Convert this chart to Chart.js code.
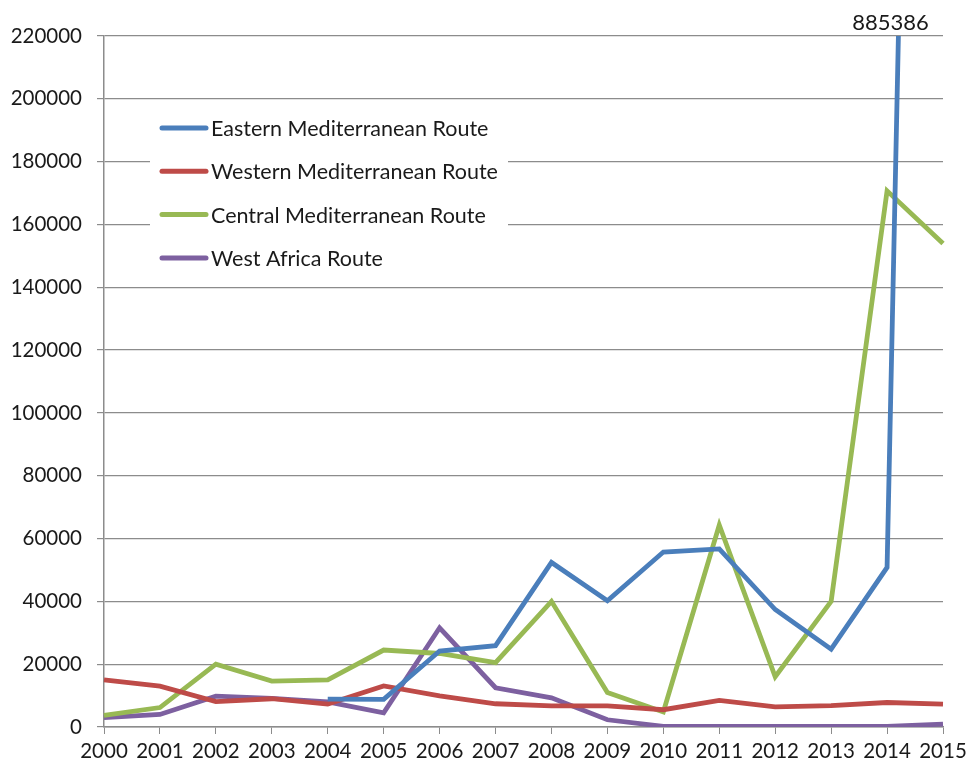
<!DOCTYPE html>
<html>
<head>
<meta charset="utf-8">
<script src="https://cdn.jsdelivr.net/npm/chart.js@4/dist/chart.umd.min.js"></script>
<style>
  html, body { margin: 0; padding: 0; background: #fff; }
  #wrap { width: 967px; height: 769px; }
</style>
</head>
<body>
<div id="wrap"><canvas id="routechart" width="967" height="769"></canvas></div>
<script>
// years on the x-axis
var years = ["2000", "2001", "2002", "2003", "2004", "2005", "2006", "2007",
             "2008", "2009", "2010", "2011", "2012", "2013", "2014", "2015"];

// detections per route
var eastern = [null, null, null, null, 8900, 8800, 24200, 25900, 52400, 40200, 55700, 56700, 37400, 24800, 50800, 885386];
var western = [15000, 13000, 8100, 9000, 7300, 13100, 9900, 7400, 6700, 6700, 5500, 8500, 6400, 6800, 7800, 7300];
var central = [3700, 6200, 20000, 14600, 15000, 24500, 23400, 20500, 40000, 11000, 4800, 64300, 16000, 40000, 170700, 153900];
var westAfrica = [3000, 4000, 9800, 9100, 8000, 4500, 31600, 12500, 9300, 2300, 200, 200, 200, 200, 200, 900];

// y-axis range shown (eastern 2015 runs off the top)
var yMax = 220000;
var yStep = 20000;

var fontFam = "Lato, 'Open Sans', sans-serif";

// legend drawn inside the plot area, over a white box
var boxLegend = {
  id: "boxLegend",
  beforeDatasetsDraw: function(chart) {
    var ctx = chart.ctx;
    var area = chart.chartArea;
    var x0 = area.left + 46, y0 = area.top + 70;
    ctx.save();
    ctx.fillStyle = "#fff";
    ctx.fillRect(x0, y0, 358, 176);
    ctx.font = "21.5px " + fontFam;
    ctx.textBaseline = "middle";
    chart.data.datasets.forEach(function(ds, i) {
      var y = y0 + 22 + i * 43.3;
      ctx.strokeStyle = ds.borderColor;
      ctx.lineWidth = 5;
      ctx.lineCap = "round";
      ctx.beginPath();
      ctx.moveTo(x0 + 12, y);
      ctx.lineTo(x0 + 56, y);
      ctx.stroke();
      ctx.fillStyle = "#1a1a1a";
      ctx.fillText(ds.label, x0 + 61, y + 1);
    });
    ctx.restore();
  },
  afterDraw: function(chart) {
    // value label for the point that is off the scale
    var ctx = chart.ctx;
    var xs = chart.scales.x, ys = chart.scales.y;
    var last = eastern.length - 1;
    var xa = xs.getPixelForValue(last - 1), xb = xs.getPixelForValue(last);
    var frac = (yMax - eastern[last - 1]) / (eastern[last] - eastern[last - 1]);
    var xc = xa + (xb - xa) * frac;
    ctx.save();
    ctx.font = "22px " + fontFam;
    ctx.fillStyle = "#1a1a1a";
    ctx.textAlign = "center";
    ctx.textBaseline = "bottom";
    ctx.fillText(String(eastern[last]), xc - 8, ys.getPixelForValue(yMax) - 2);
    ctx.restore();
  }
};

var ctx = document.getElementById("routechart").getContext("2d");

var routeChart = new Chart(ctx, {
  type: "line",
  data: {
    labels: years,
    datasets: [
      { label: "Eastern Mediterranean Route", data: eastern, borderColor: "#4A7EBB" },
      { label: "Western Mediterranean Route", data: western, borderColor: "#BE4B48" },
      { label: "Central Mediterranean Route", data: central, borderColor: "#98B954" },
      { label: "West Africa Route", data: westAfrica, borderColor: "#7D60A0" }
    ]
  },
  options: {
    responsive: false,
    animation: false,
    layout: { padding: { top: 36, right: 24, left: 0, bottom: 0 } },
    elements: {
      line: { borderWidth: 4.8, tension: 0, fill: false, borderJoinStyle: "miter" },
      point: { radius: 0, hoverRadius: 0 }
    },
    plugins: {
      legend: { display: false },
      tooltip: { enabled: false }
    },
    scales: {
      x: {
        offset: false,
        grid: { drawOnChartArea: false, drawTicks: true, tickLength: 7, color: "#8c8c8c" },
        border: { color: "#8c8c8c", width: 1.5 },
        ticks: { color: "#1a1a1a", font: { family: fontFam, size: 20.5 }, padding: 5, maxRotation: 0, autoSkip: false },
        afterFit: function(s) {
          s.height = 42;
          s.paddingLeft = 0;
          s.paddingRight = 24;
        }
      },
      y: {
        min: 0,
        max: yMax,
        grid: { color: "#8c8c8c", lineWidth: 1.2, tickLength: 7 },
        border: { color: "#8c8c8c", width: 1.5 },
        ticks: {
          stepSize: yStep, color: "#1a1a1a", font: { family: fontFam, size: 20.5 }, padding: 15,
          callback: function(v) { return String(v); }
        },
        afterFit: function(s) { s.width = 104; }
      }
    }
  },
  plugins: [boxLegend]
});
</script>
</body>
</html>
